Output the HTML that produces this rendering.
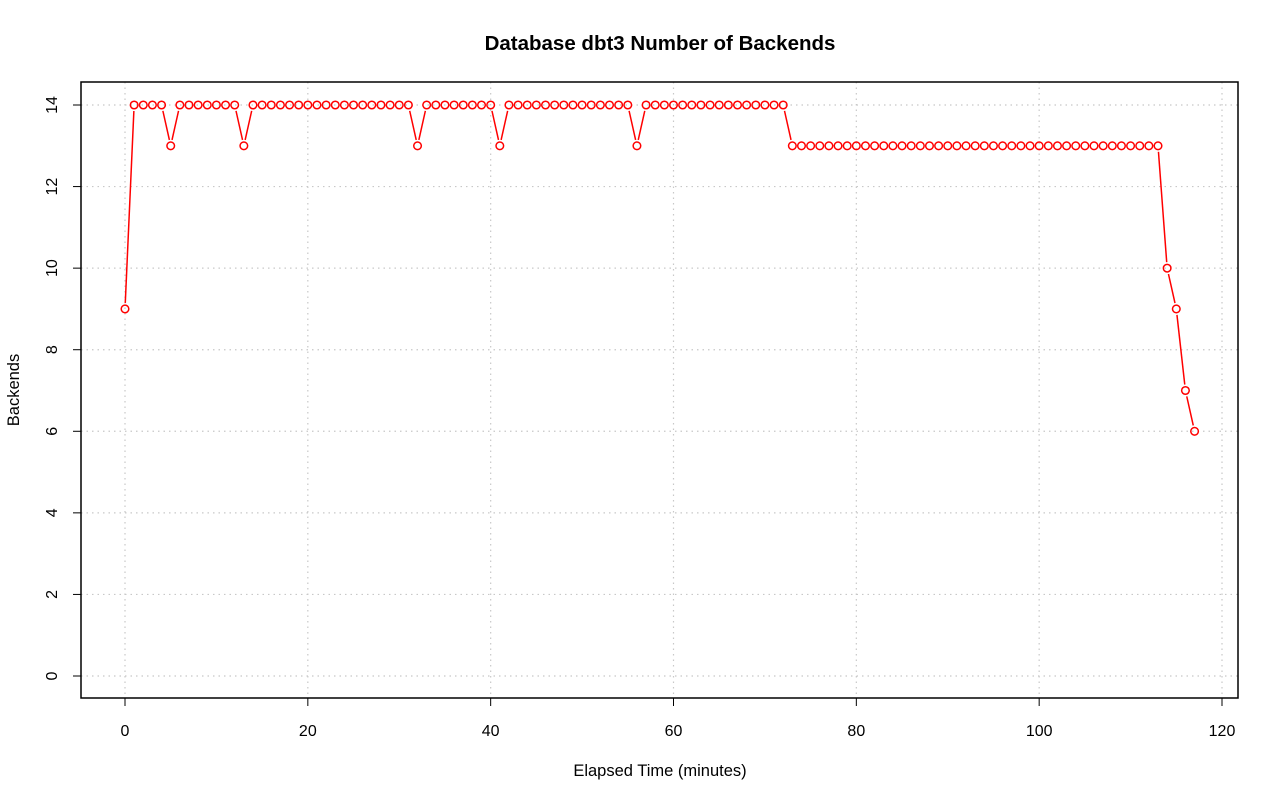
<!DOCTYPE html>
<html><head><meta charset="utf-8"><style>
html,body{margin:0;padding:0;background:#fff;}
svg{display:block;font-family:"Liberation Sans",Arial,sans-serif;}
</style></head><body>
<svg id="chart" width="1280" height="801" viewBox="0 0 1280 801" xmlns="http://www.w3.org/2000/svg">
<rect width="1280" height="801" fill="#fff"/>
<text x="660" y="50" text-anchor="middle" font-size="20.5" font-weight="bold">Database dbt3 Number of Backends</text>
<text x="660" y="776" text-anchor="middle" font-size="16.5">Elapsed Time (minutes)</text>
<text x="19" y="390" text-anchor="middle" font-size="16.5" transform="rotate(-90 19 390)">Backends</text>
<g id="grid"></g>
<g id="axes"></g>
<g id="series"></g>
<rect x="81" y="82" width="1157" height="616" fill="none" stroke="#000" stroke-width="1.5"/>
</svg>
<script>
const xTicks = [0,20,40,60,80,100,120];
const yTicks = [0,2,4,6,8,10,12,14];
const minutes = [];
for (let i = 0; i <= 117; i++) minutes.push(i);
const backends = [9,14,14,14,14,13,14,14,14,14,14,14,14,13,14,14,14,14,14,14,
14,14,14,14,14,14,14,14,14,14,14,14,13,14,14,14,14,14,14,14,
14,13,14,14,14,14,14,14,14,14,14,14,14,14,14,14,13,14,14,14,
14,14,14,14,14,14,14,14,14,14,14,14,14,13,13,13,13,13,13,13,
13,13,13,13,13,13,13,13,13,13,13,13,13,13,13,13,13,13,13,13,
13,13,13,13,13,13,13,13,13,13,13,13,13,13,10,9,7,6];
const NS = "http://www.w3.org/2000/svg";
const xs = v => 125 + v * (1222 - 125) / 120;
const ys = v => 676 - v * (676 - 105) / 14;
function mk(tag, attrs, parent) {
  const e = document.createElementNS(NS, tag);
  for (const k in attrs) e.setAttribute(k, attrs[k]);
  parent.appendChild(e);
  return e;
}
const grid = document.getElementById('grid');
const axes = document.getElementById('axes');
const series = document.getElementById('series');
xTicks.forEach(t => {
  const g = mk('line', {x1: xs(t), x2: xs(t), y1: 82, y2: 698, stroke: '#c8c8c8', 'stroke-dasharray': '1.5,4', 'stroke-width': 1.2}, grid);
  
  
  const tk = mk('line', {x1: xs(t), x2: xs(t), y1: 698, y2: 706, stroke: '#000', 'stroke-width': 1}, axes);
  
  
  const lb = mk('text', {x: xs(t), y: 736, 'text-anchor': 'middle', 'font-size': 16}, axes);
  lb.textContent = t;
  
  
});
mk('line', {x1: xs(0), x2: xs(120), y1: 698, y2: 698, stroke: '#000'}, axes);
yTicks.forEach(t => {
  const g = mk('line', {x1: 81, x2: 1238, y1: ys(t), y2: ys(t), stroke: '#c8c8c8', 'stroke-dasharray': '1.5,4', 'stroke-width': 1.2}, grid);
  
  
  const tk = mk('line', {x1: 73, x2: 81, y1: ys(t), y2: ys(t), stroke: '#000', 'stroke-width': 1}, axes);
  
  
  const lb = mk('text', {x: 57, y: ys(t), 'text-anchor': 'middle', 'font-size': 16, transform: 'rotate(-90 57 ' + ys(t) + ')'}, axes);
  lb.textContent = t;
  
  
});
const gap = 6;
for (let i = 0; i < minutes.length - 1; i++) {
  const x1 = xs(minutes[i]), y1 = ys(backends[i]), x2 = xs(minutes[i+1]), y2 = ys(backends[i+1]);
  const dx = x2 - x1, dy = y2 - y1, d = Math.hypot(dx, dy);
  if (d <= 2 * gap) continue;
  const ux = dx / d, uy = dy / d;
  const s = mk('line', {x1: x1 + ux*gap, y1: y1 + uy*gap, x2: x2 - ux*gap, y2: y2 - uy*gap, stroke: '#ff0000', 'stroke-width': 1.5}, series);
  
  
}
minutes.forEach((m, i) => {
  const c = mk('circle', {cx: xs(m), cy: ys(backends[i]), r: 3.8, fill: 'none', stroke: '#ff0000', 'stroke-width': 1.5}, series);
  
  
});
</script>
</body></html>
